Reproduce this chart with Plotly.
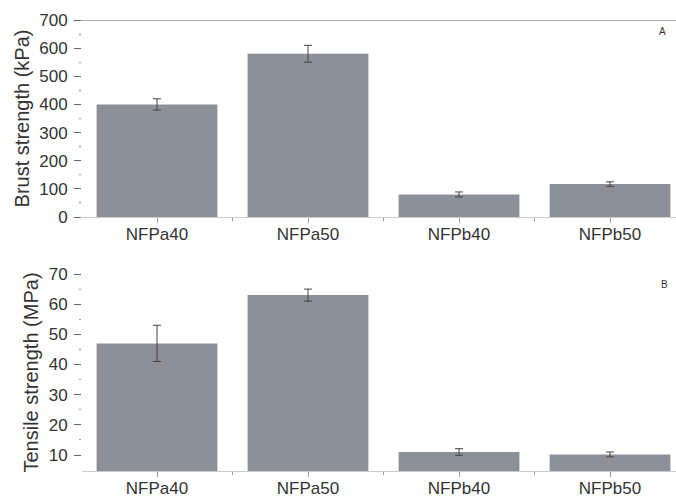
import plotly.graph_objects as go

categories = ["NFPa40", "NFPa50", "NFPb40", "NFPb50"]
burst_kpa = [400, 580, 80, 117]
burst_err = [20, 30, 9, 8]
tensile_mpa = [47, 63, 11, 10.2]
tensile_err = [6, 2, 1.1, 0.8]

W, H = 676, 499
FONT = "Liberation Sans, Arial, sans-serif"
BAR = "#8c9098"
TXT = "#333333"

xpos = list(range(len(categories)))

fig = go.Figure()
fig.add_trace(go.Bar(x=xpos, y=burst_kpa, width=0.8, marker=dict(color=BAR, line=dict(width=0)),
                     error_y=dict(type="data", array=burst_err, color="#444444", thickness=1, width=4),
                     xaxis="x", yaxis="y", showlegend=False))
fig.add_trace(go.Bar(x=xpos, y=tensile_mpa, width=0.8, marker=dict(color=BAR, line=dict(width=0)),
                     error_y=dict(type="data", array=tensile_err, color="#444444", thickness=1, width=4),
                     xaxis="x2", yaxis="y2", showlegend=False))

x_left_px = 82
xr = [(x_left_px - 157) / 151, (W - 157) / 151]
xdom = [x_left_px / W, 1.0]

common_x = dict(range=xr, domain=xdom, tickmode="array", tickvals=xpos, ticktext=categories,
                ticks="outside", ticklen=5, tickcolor="#999999", showline=True, linecolor="#cccccc",
                linewidth=1, showgrid=False, zeroline=False, automargin=False, ticklabelstandoff=-3,
                tickfont=dict(family=FONT, size=17, color=TXT),
                minor=dict(tickmode="array", tickvals=[0.5, 1.5, 2.5], ticklen=3, tickcolor="#999999",
                           ticks="outside"))

fig.update_layout(
    template="none",
    width=W, height=H, margin=dict(l=0, r=0, t=0, b=0, pad=0, autoexpand=False),
    paper_bgcolor="white", plot_bgcolor="white", bargap=0.2,
    font=dict(family=FONT, color=TXT),
    xaxis=dict(**common_x, anchor="y"),
    xaxis2=dict(**common_x, anchor="y2"),
    yaxis=dict(domain=[(H - 217) / H, (H - 20) / H], range=[0, 700], dtick=100,
               ticks="outside", ticklen=7, tickcolor="#666666", showline=False, showgrid=False,
               zeroline=False, automargin=False, ticklabelstandoff=3,
               tickfont=dict(family=FONT, size=17, color=TXT),
               minor=dict(dtick=50, ticklen=2, tickcolor="#999999", ticks="outside"),
               title=dict(text="Brust strength (kPa)", font=dict(family=FONT, size=20, color=TXT), standoff=4),
               anchor="x"),
    yaxis2=dict(domain=[(H - 471) / H, (H - 274) / H], range=[4.7, 70], tickvals=[10, 20, 30, 40, 50, 60, 70],
                ticks="outside", ticklen=7, tickcolor="#666666", showline=False, showgrid=False,
                zeroline=False, automargin=False, ticklabelstandoff=3,
                tickfont=dict(family=FONT, size=17, color=TXT),
                minor=dict(tickvals=[15, 25, 35, 45, 55, 65], ticklen=2, tickcolor="#999999", ticks="outside"),
                title=dict(text="Tensile strength (MPa)", font=dict(family=FONT, size=20, color=TXT), standoff=4),
                anchor="x2"),
    shapes=[dict(type="line", xref="paper", yref="y", x0=73 / W, x1=1, y0=700, y1=700,
                 line=dict(color="#666666", width=1))],
    annotations=[
        dict(text="A", xref="paper", yref="y", x=668 / W, y=660, showarrow=False,
             font=dict(family=FONT, size=10, color="#333333")),
        dict(text="B", xref="paper", yref="y2", x=670 / W, y=66.5, showarrow=False,
             font=dict(family=FONT, size=10, color="#333333")),
    ],
)

fig.write_html("out.html", config={"displayModeBar": False},
               post_script="document.body.style.margin='0px';")
